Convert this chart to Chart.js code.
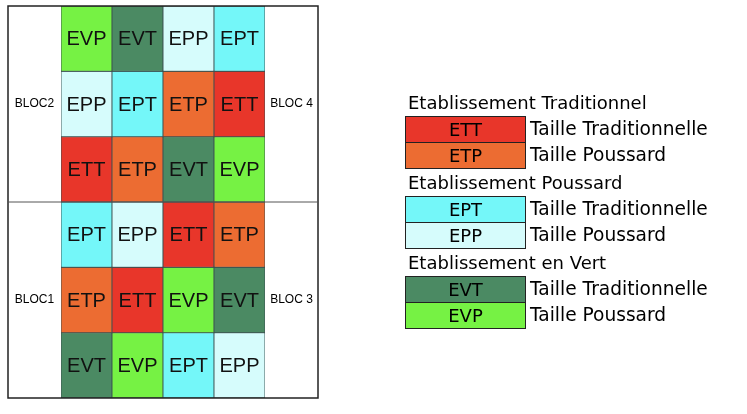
<!DOCTYPE html>
<html><head><meta charset="utf-8">
<script src="https://cdn.jsdelivr.net/npm/chart.js@4/dist/chart.umd.min.js"></script>
<style>
body{margin:0;background:#fff;width:747px;height:414px;overflow:hidden;position:relative;font-family:"DejaVu Sans",sans-serif}
#wrap{position:absolute;left:0;top:0;width:747px;height:414px}
.hd{position:absolute;left:408px;font-size:18px;line-height:26px}
.bx{position:absolute;left:405px;width:119px;height:25px;border:1px solid #222;text-align:center;line-height:25px;font-size:18px}
.tx{position:absolute;left:530px;font-size:18.6px;line-height:26px}
</style></head><body>
<div id="wrap"><canvas id="c" width="747" height="414"></canvas></div>
<div id="legend"></div>
<script>
const columns = ['C1', 'C2', 'C3', 'C4'];
const rows = [
  ['EVP', 'EVT', 'EPP', 'EPT'],
  ['EPP', 'EPT', 'ETP', 'ETT'],
  ['ETT', 'ETP', 'EVT', 'EVP'],
  ['EPT', 'EPP', 'ETT', 'ETP'],
  ['ETP', 'ETT', 'EVP', 'EVT'],
  ['EVT', 'EVP', 'EPT', 'EPP'],
];
const blocs = [['BLOC2', 'BLOC 4'], ['BLOC1', 'BLOC 3']];
const colors = {
  ETT: '#e8362a', ETP: '#ec6c32', EPT: '#74f7f9',
  EPP: '#d6fcfc', EVT: '#4b8a63', EVP: '#76f244',
};
const groups = [
  ['Etablissement Traditionnel', ['ETT', 'ETP']],
  ['Etablissement Poussard', ['EPT', 'EPP']],
  ['Etablissement en Vert', ['EVT', 'EVP']],
];
const sizes = ['Taille Traditionnelle', 'Taille Poussard'];

// legend as html
let html = '', y = 90;
groups.forEach(([title, codes], g) => {
  if (g) y += 2;
  html += `<div class="hd" style="top:${y}px">${title}</div>`;
  y += 26;
  codes.forEach((c, i) => {
    html += `<div class="bx" style="top:${y}px;background:${colors[c]}">${c}</div>`;
    html += `<div class="tx" style="top:${y}px">${sizes[i]}</div>`;
    y += 26;
  });
});
document.getElementById('legend').innerHTML = html;

const datasets = rows.map((r, i) => ({
  data: r.map(() => [i, i + 1]),
  backgroundColor: r.map(c => colors[c]),
  borderColor: '#3c5050',
  borderWidth: 0.8,
  borderSkipped: false,
  barPercentage: 1,
  categoryPercentage: 1,
  grouped: false,
}));

const field = {
  id: 'field',
  afterDatasetsDraw(chart) {
    const ctx = chart.ctx, a = chart.chartArea, ys = chart.scales.y;
    chart.data.datasets.forEach((ds, i) => {
      chart.getDatasetMeta(i).data.forEach((bar, j) => {
        ctx.fillStyle = '#111';
        ctx.font = '20px "Liberation Sans", Arial';
        ctx.textAlign = 'center';
        ctx.textBaseline = 'middle';
        ctx.fillText(rows[i][j], bar.x, (bar.y + bar.base) / 2 + 1);
      });
    });
    const L = 8, R = 318;
    ctx.strokeStyle = '#222';
    ctx.lineWidth = 1.5;
    ctx.strokeRect(L, a.top, R - L, a.bottom - a.top);
    ctx.lineWidth = 1;
    ctx.strokeStyle = '#555';
    ctx.beginPath();
    ctx.moveTo(L, ys.getPixelForValue(3));
    ctx.lineTo(R, ys.getPixelForValue(3));
    ctx.stroke();
    ctx.font = '12px "Liberation Sans", Arial';
    ctx.fillStyle = '#000';
    blocs.forEach((b, k) => {
      const yy = ys.getPixelForValue(k * 3 + 1.5);
      ctx.fillText(b[0], (L + a.left) / 2, yy);
      ctx.fillText(b[1], (R + a.right) / 2, yy);
    });
  }
};

new Chart(document.getElementById('c'), {
  type: 'bar',
  data: { labels: columns, datasets },
  options: {
    responsive: false,
    animation: false,
    layout: { padding: { left: 61, right: 482, top: 6, bottom: 16 } },
    plugins: { legend: { display: false }, tooltip: { enabled: false } },
    scales: {
      x: { display: false },
      y: { display: false, min: 0, max: 6, reverse: true },
    },
  },
  plugins: [field],
});
</script>
</body></html>
